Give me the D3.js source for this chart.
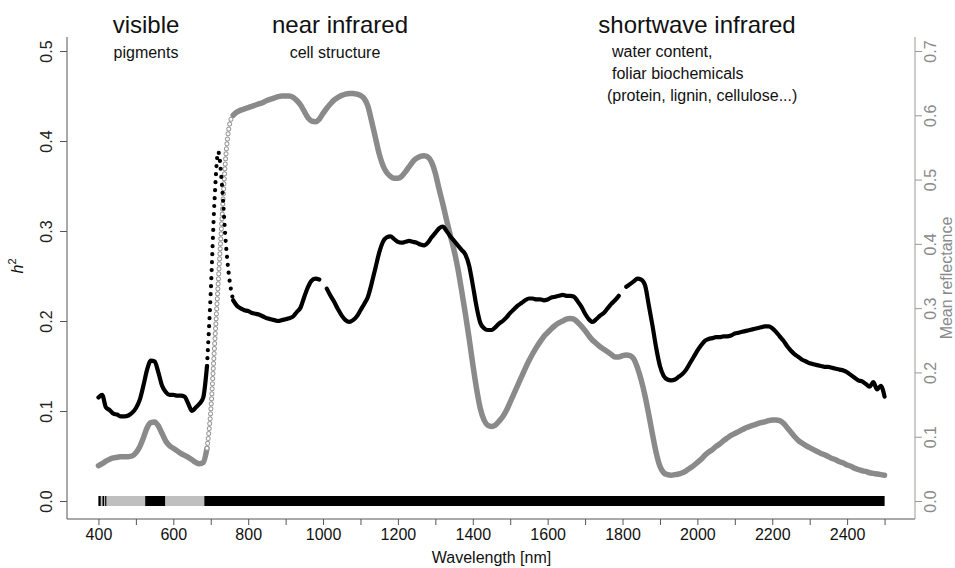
<!DOCTYPE html>
<html>
<head>
<meta charset="utf-8">
<script src="https://cdn.jsdelivr.net/npm/d3@7"></script>
<style>
  body { margin: 0; background: #fff; }
  svg { display: block; font-family: "Liberation Sans", Arial, Helvetica, sans-serif; }
</style>
</head>
<body>
<svg id="chart" width="955" height="568"></svg>
<script>
// sample wavelengths (nm), one every 10 nm
const wavelengths = d3.range(400, 2501, 10);

// h2 per wavelength (left axis); null = detector junction, not drawn
const heritability = [
  0.115, 0.118, 0.104, 0.101, 0.097, 0.096, 0.094, 0.094, 0.095, 0.098,
  0.103, 0.112, 0.128, 0.146, 0.156, 0.155, 0.143, 0.128, 0.121, 0.118,
  0.118, 0.117, 0.117, 0.116, 0.108, 0.100, 0.104, 0.108, 0.115, 0.150,
  0.232, 0.333, 0.388, 0.351, 0.288, 0.246, 0.223, 0.217, 0.214, 0.212,
  0.211, 0.209, 0.208, 0.207, 0.205, 0.203, 0.202, 0.201, 0.200, 0.201,
  0.202, 0.203, 0.205, 0.210, 0.215, 0.227, 0.238, 0.245, 0.247, 0.246,
  null,  0.236, 0.228, 0.221, 0.213, 0.206, 0.201, 0.199, 0.201, 0.205,
  0.212, 0.219, 0.227, 0.242, 0.259, 0.276, 0.288, 0.293, 0.294, 0.291,
  0.288, 0.287, 0.288, 0.289, 0.288, 0.287, 0.285, 0.284, 0.287, 0.293,
  0.298, 0.303, 0.305, 0.300, 0.294, 0.289, 0.284, 0.279, 0.274, 0.262,
  0.240, 0.216, 0.198, 0.192, 0.190, 0.190, 0.193, 0.197, 0.200, 0.204,
  0.209, 0.213, 0.217, 0.220, 0.223, 0.225, 0.225, 0.224, 0.224, 0.223,
  0.224, 0.226, 0.227, 0.228, 0.229, 0.228, 0.228, 0.227, 0.222, 0.216,
  0.208, 0.202, 0.199, 0.202, 0.206, 0.209, 0.214, 0.219, 0.223, 0.228,
  null,  0.238, 0.241, 0.244, 0.247, 0.246, 0.240, 0.218, 0.195, 0.170,
  0.150, 0.139, 0.135, 0.134, 0.135, 0.138, 0.141, 0.146, 0.153, 0.160,
  0.167, 0.173, 0.178, 0.180, 0.181, 0.182, 0.182, 0.183, 0.183, 0.184,
  0.186, 0.187, 0.188, 0.189, 0.190, 0.191, 0.192, 0.193, 0.194, 0.194,
  0.192, 0.188, 0.183, 0.178, 0.172, 0.167, 0.163, 0.160, 0.157, 0.155,
  0.153, 0.152, 0.151, 0.150, 0.149, 0.149, 0.148, 0.147, 0.146, 0.145,
  0.143, 0.140, 0.137, 0.134, 0.133, 0.130, 0.127, 0.132, 0.124, 0.128,
  0.116
];

// mean reflectance per wavelength (right axis)
const reflectance = [
  0.055, 0.058, 0.062, 0.065, 0.067, 0.068, 0.069, 0.069, 0.069, 0.070,
  0.075, 0.084, 0.098, 0.114, 0.122, 0.123, 0.117, 0.105, 0.093, 0.086,
  0.082, 0.078, 0.074, 0.071, 0.068, 0.064, 0.060, 0.058, 0.060, 0.082,
  0.140, 0.240, 0.340, 0.440, 0.535, 0.585, 0.600, 0.605, 0.608, 0.610,
  0.612, 0.614, 0.616, 0.618, 0.620, 0.623, 0.625, 0.627, 0.629, 0.630,
  0.630, 0.630, 0.628, 0.623, 0.616, 0.606, 0.596, 0.591, 0.590, 0.594,
  0.603, 0.611, 0.618, 0.624, 0.628, 0.631, 0.633, 0.634, 0.634, 0.633,
  0.631, 0.626, 0.614, 0.590, 0.565, 0.540, 0.522, 0.511, 0.505, 0.502,
  0.502, 0.505, 0.512, 0.520, 0.528, 0.533, 0.536, 0.537, 0.535, 0.527,
  0.510, 0.485, 0.462, 0.437, 0.413, 0.390, 0.362, 0.328, 0.292, 0.254,
  0.213, 0.175, 0.144, 0.126, 0.118, 0.116, 0.118, 0.124, 0.131, 0.141,
  0.154, 0.167, 0.180, 0.193, 0.206, 0.218, 0.229, 0.239, 0.248, 0.256,
  0.262, 0.268, 0.273, 0.277, 0.280, 0.283, 0.284, 0.283, 0.278, 0.272,
  0.265, 0.257, 0.250, 0.245, 0.240, 0.236, 0.232, 0.228, 0.224, 0.224,
  0.226, 0.227, 0.226, 0.221, 0.207, 0.188, 0.164, 0.135, 0.104, 0.075,
  0.054, 0.044, 0.041, 0.040, 0.041, 0.042, 0.044, 0.047, 0.051, 0.055,
  0.060, 0.065, 0.071, 0.076, 0.080, 0.085, 0.089, 0.094, 0.098, 0.102,
  0.105, 0.108, 0.111, 0.114, 0.116, 0.118, 0.120, 0.122, 0.123, 0.125,
  0.126, 0.126, 0.125, 0.121, 0.114, 0.107, 0.100, 0.094, 0.090, 0.086,
  0.083, 0.080, 0.077, 0.074, 0.072, 0.069, 0.066, 0.064, 0.061, 0.059,
  0.056, 0.054, 0.051, 0.049, 0.047, 0.046, 0.044, 0.043, 0.042, 0.041,
  0.040
];

// wavelength ranges where h2 is significant (black in the strip)
const significantRanges = [[400, 406], [411, 415], [418, 421], [525, 578], [683, 2500]];

const xTicks = d3.range(400, 2501, 100);
const leftTicks = [0, 0.1, 0.2, 0.3, 0.4, 0.5];
const rightTicks = [0, 0.1, 0.2, 0.3, 0.4, 0.5, 0.6, 0.7];

const svg = d3.select("#chart");
const plot = { left: 67, right: 916, top: 37, bottom: 519 };

const x = d3.scaleLinear().domain([316, 2584]).range([plot.left, plot.right]);
const yLeft = d3.scaleLinear().domain([-0.02, 0.52]).range([519, 33]);
const yRight = d3.scaleLinear().domain([-0.028, 0.728]).range([519, 33]);

// frame: left, bottom, right (top open)
svg.append("path")
  .attr("d", `M${plot.left},${plot.top}V${plot.bottom}H${plot.right - 1}`)
  .attr("fill", "none").attr("stroke", "#555").attr("stroke-width", 1);
svg.append("line")
  .attr("x1", plot.right - 1).attr("x2", plot.right - 1)
  .attr("y1", plot.top).attr("y2", plot.bottom)
  .attr("stroke", "#999").attr("stroke-width", 1);

// x axis
const xAxis = svg.append("g")
  .attr("transform", `translate(0,${plot.bottom})`)
  .call(d3.axisBottom(x).tickValues(xTicks)
    .tickFormat(d => d % 200 === 0 ? d : "")
    .tickSize(6).tickPadding(4));
xAxis.select(".domain").remove();
xAxis.selectAll("line").attr("stroke", "#555");
xAxis.selectAll("text").attr("font-size", 16).attr("fill", "#111")
  .attr("font-family", "Liberation Sans, Arial, sans-serif");

// left axis
const lAxis = svg.append("g")
  .attr("transform", `translate(${plot.left},0)`)
  .call(d3.axisLeft(yLeft).tickValues(leftTicks).tickFormat(d3.format(".1f")).tickSize(7));
lAxis.select(".domain").remove();
lAxis.selectAll("line").attr("stroke", "#555");
lAxis.selectAll("text")
  .attr("x", 0).attr("y", -15).attr("dy", 0)
  .attr("text-anchor", "middle")
  .attr("transform", "rotate(-90)")
  .attr("font-size", 16).attr("fill", "#222")
  .attr("font-family", "Liberation Sans, Arial, sans-serif");

// right axis
const rAxis = svg.append("g")
  .attr("transform", `translate(${plot.right - 1},0)`)
  .call(d3.axisRight(yRight).tickValues(rightTicks).tickFormat(d3.format(".1f")).tickSize(7));
rAxis.select(".domain").remove();
rAxis.selectAll("line").attr("stroke", "#999");
rAxis.selectAll("text")
  .attr("x", 0).attr("y", 21).attr("dy", 0)
  .attr("text-anchor", "middle")
  .attr("transform", "rotate(-90)")
  .attr("font-size", 16).attr("fill", "#8a8a8a")
  .attr("font-family", "Liberation Sans, Arial, sans-serif");

// axis titles
svg.append("text")
  .attr("x", (plot.left + plot.right) / 2).attr("y", 563)
  .attr("text-anchor", "middle").attr("font-size", 16).attr("fill", "#111")
  .text("Wavelength [nm]");

const hLab = svg.append("text")
  .attr("transform", "translate(23,266) rotate(-90)")
  .attr("text-anchor", "middle").attr("font-size", 16).attr("fill", "#111");
hLab.append("tspan").attr("font-style", "italic").text("h");
hLab.append("tspan").attr("font-size", 11).attr("dy", -7).text("2");

svg.append("text")
  .attr("transform", "translate(952,278) rotate(-90)")
  .attr("text-anchor", "middle").attr("font-size", 16).attr("fill", "#8a8a8a")
  .text("Mean reflectance");

// significance strip along h2 = 0
svg.append("rect")
  .attr("x", x(400)).attr("width", x(2500) - x(400))
  .attr("y", yLeft(0) - 5).attr("height", 10)
  .attr("fill", "#bfbfbf");
svg.selectAll(".sig")
  .data(significantRanges)
  .join("rect")
  .attr("class", "sig")
  .attr("x", d => x(d[0])).attr("width", d => x(d[1]) - x(d[0]))
  .attr("y", yLeft(0) - 5).attr("height", 10)
  .attr("fill", "#000");

// curves
function curve(values, yScale, keep) {
  return d3.line()
    .defined((d, i) => d != null && keep(wavelengths[i]))
    .x((d, i) => x(wavelengths[i]))
    .y(d => yScale(d))
    .curve(d3.curveMonotoneX)(values);
}
const edgeR = w => w >= 690 && w <= 760;
const solidR = w => w <= 690 || w >= 760;
const edgeH = w => w >= 690 && w <= 760;
const solidH = w => w <= 690 || w >= 760;

// mean reflectance: grey, open circles where the curve is steep
svg.append("path")
  .attr("d", curve(reflectance, yRight, solidR))
  .attr("fill", "none").attr("stroke", "#8a8a8a")
  .attr("stroke-width", 5.5).attr("stroke-linejoin", "round").attr("stroke-linecap", "round");
svg.append("path")
  .attr("d", curve(reflectance, yRight, edgeR))
  .attr("fill", "none").attr("stroke", "#999")
  .attr("stroke-width", 5).attr("stroke-linecap", "round").attr("stroke-dasharray", "0 5");
svg.append("path")
  .attr("d", curve(reflectance, yRight, edgeR))
  .attr("fill", "none").attr("stroke", "#fff")
  .attr("stroke-width", 3).attr("stroke-linecap", "round").attr("stroke-dasharray", "0 5");

// h2: black, separate dots on the red edge
svg.append("path")
  .attr("d", curve(heritability, yLeft, solidH))
  .attr("fill", "none").attr("stroke", "#000")
  .attr("stroke-width", 4.2).attr("stroke-linejoin", "round").attr("stroke-linecap", "round");
svg.append("path")
  .attr("d", curve(heritability, yLeft, edgeH))
  .attr("fill", "none").attr("stroke", "#000")
  .attr("stroke-width", 4.2).attr("stroke-linecap", "round").attr("stroke-dasharray", "0 8");

// spectral region annotations
const big = [
  { text: "visible", x: 146 },
  { text: "near infrared", x: 340 },
  { text: "shortwave infrared", x: 697 }
];
svg.selectAll(".region")
  .data(big)
  .join("text")
  .attr("class", "region")
  .attr("x", d => d.x).attr("y", 33)
  .attr("text-anchor", "middle").attr("font-size", 24).attr("fill", "#111")
  .text(d => d.text);

const small = [
  { text: "pigments", x: 146, y: 58, anchor: "middle" },
  { text: "cell structure", x: 335, y: 58, anchor: "middle" },
  { text: "water content,", x: 612, y: 57, anchor: "start" },
  { text: "foliar biochemicals", x: 612, y: 79, anchor: "start" },
  { text: "(protein, lignin, cellulose...)", x: 607, y: 101, anchor: "start" }
];
svg.selectAll(".note")
  .data(small)
  .join("text")
  .attr("class", "note")
  .attr("x", d => d.x).attr("y", d => d.y)
  .attr("text-anchor", d => d.anchor).attr("font-size", 16).attr("fill", "#111")
  .text(d => d.text);
</script>
</body>
</html>
